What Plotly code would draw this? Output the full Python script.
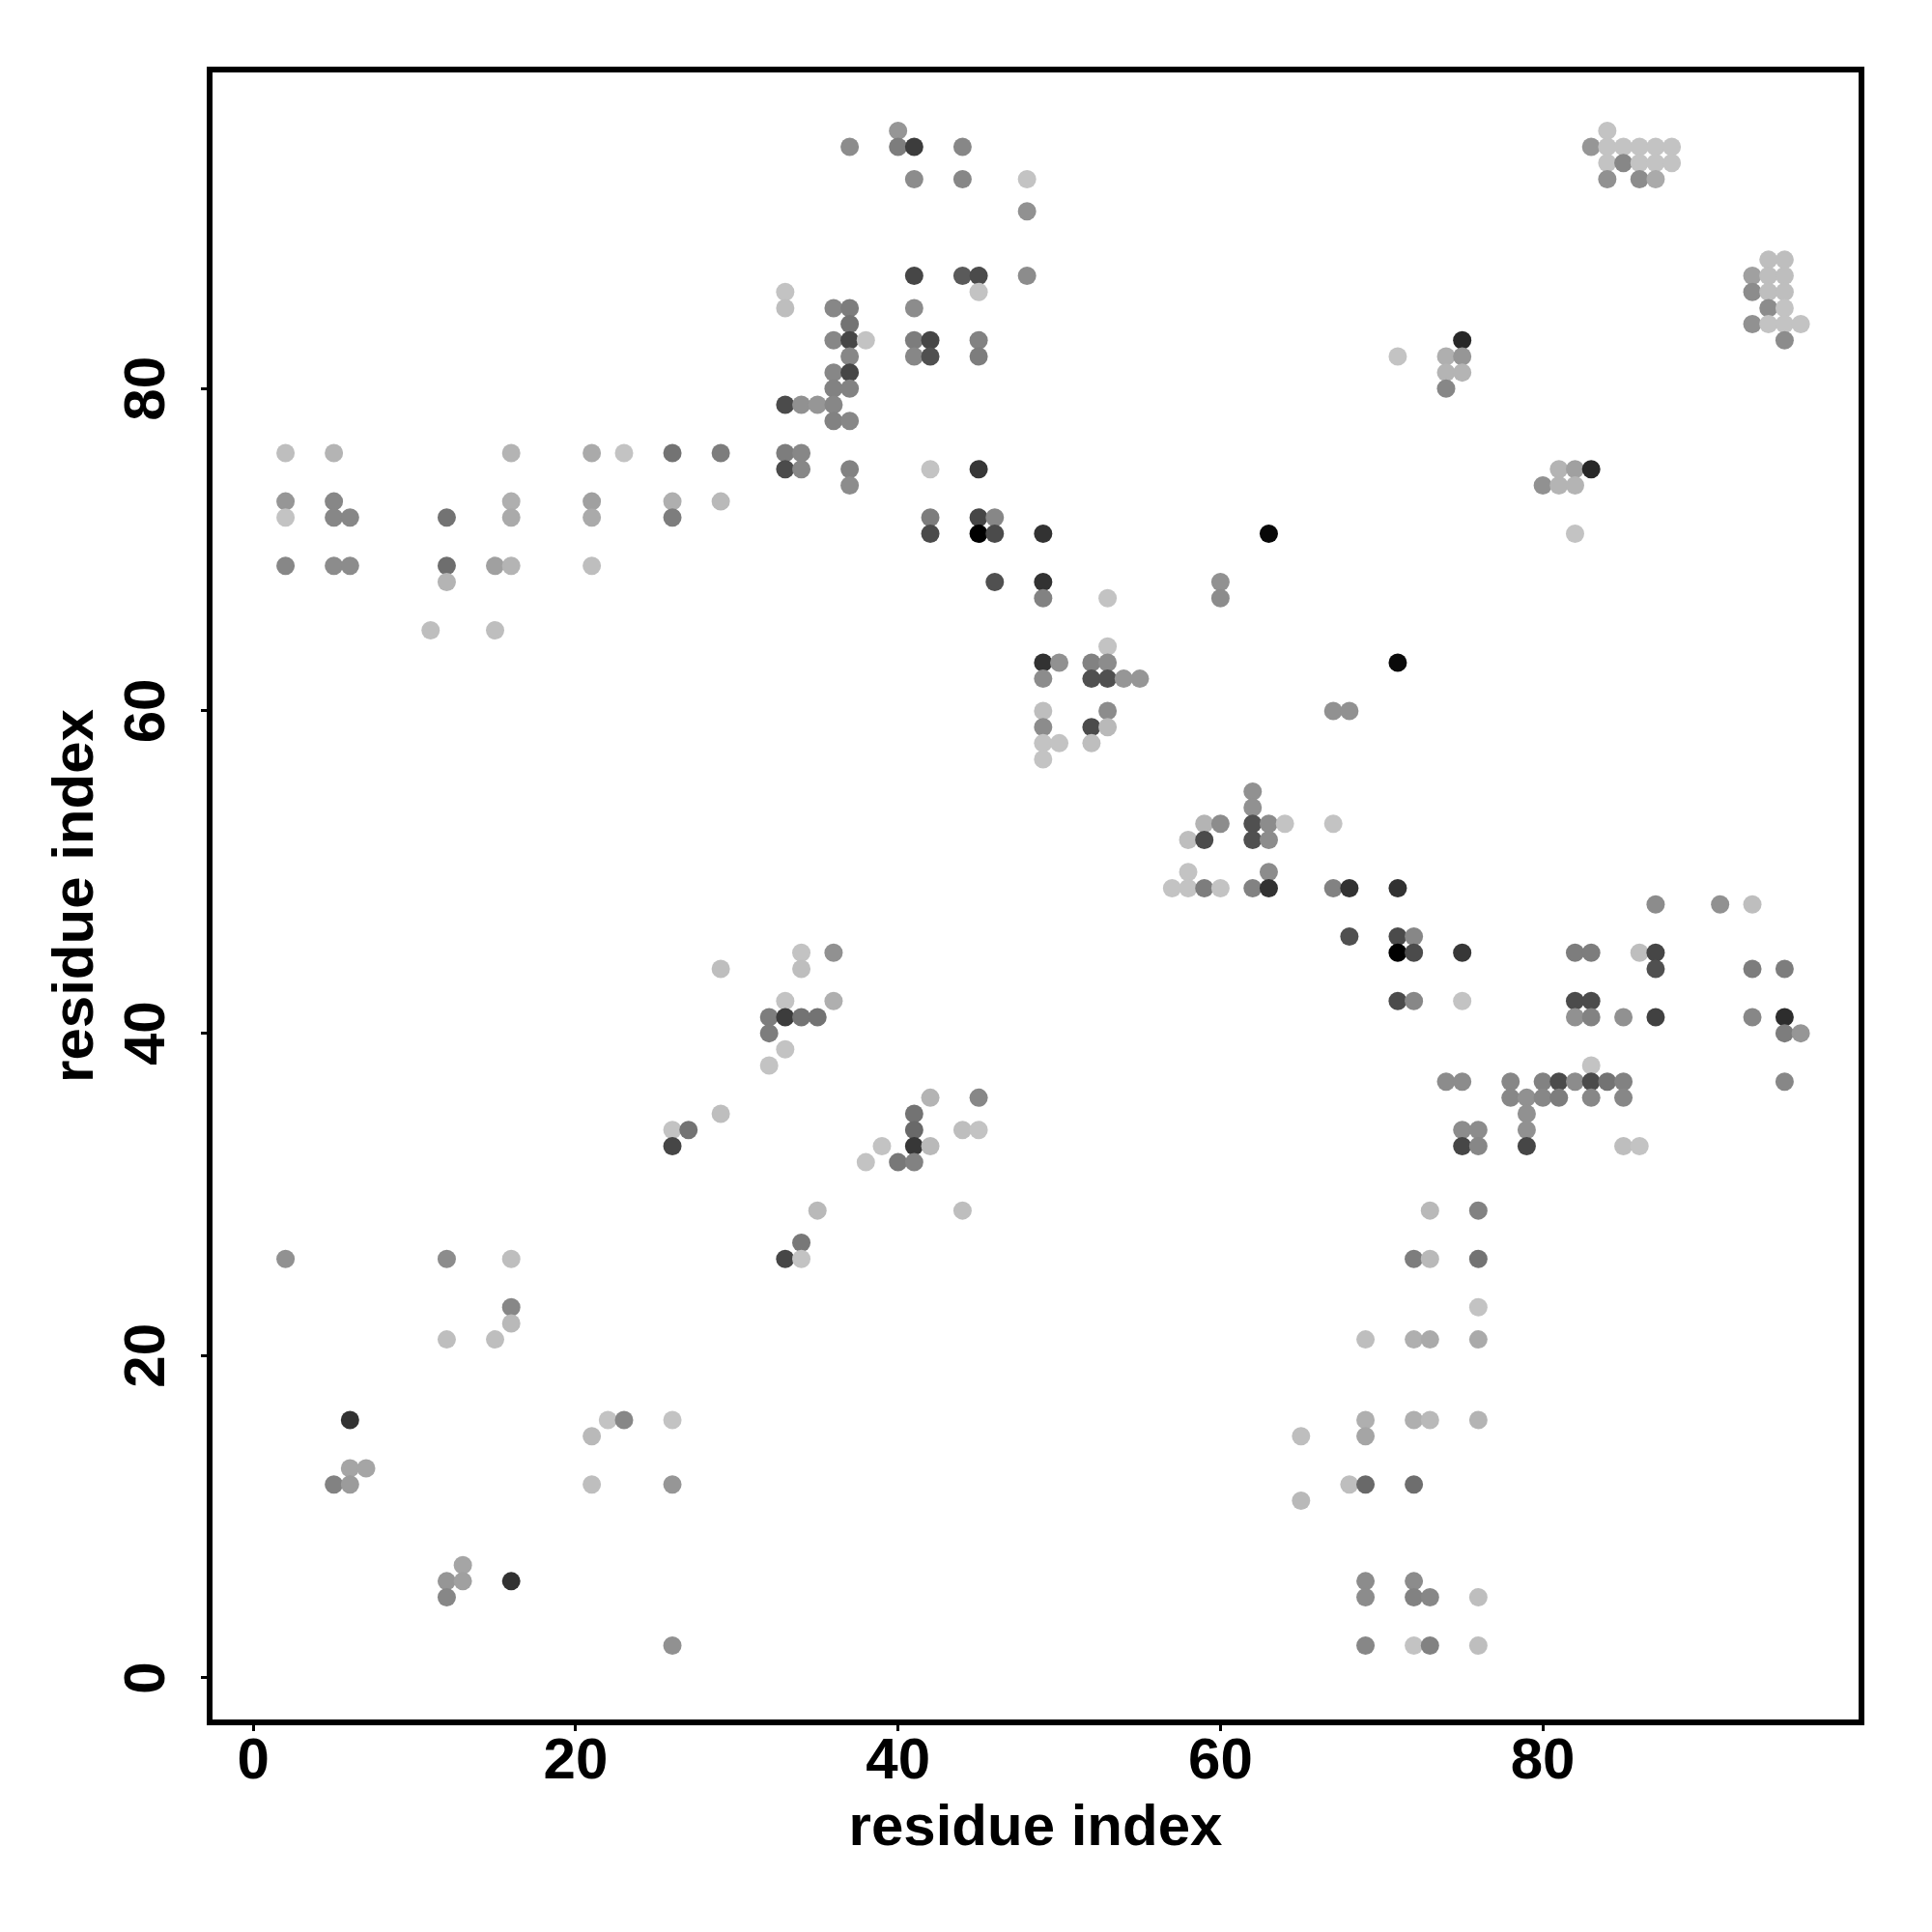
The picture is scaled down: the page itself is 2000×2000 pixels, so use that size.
import plotly.graph_objects as go

# One entry per occupied row of the map: y index, x indices in that row, grey level of each point.
row_y = [96, 95, 94, 93, 91, 88, 87, 86, 85, 84, 83, 82, 81, 80, 79, 78, 76, 75, 74, 73, 72, 71,
         69, 68, 67, 65, 64, 63, 62, 60, 59, 58, 57, 55, 54, 53, 52, 50, 49, 48, 46, 45, 44, 42,
         41, 40, 39, 38, 37, 36, 35, 34, 33, 32, 29, 27, 26, 23, 22, 21, 16, 15, 13, 12, 11, 7,
         6, 5, 2]
row_x = [
    [40, 84],
    [37, 40, 41, 44, 83, 84, 85, 86, 87, 88],
    [84, 85, 86, 87, 88],
    [41, 44, 48, 84, 86, 87],
    [48],
    [94, 95],
    [41, 44, 45, 48, 93, 94, 95],
    [33, 45, 93, 94, 95],
    [33, 36, 37, 41, 94, 95],
    [37, 93, 94, 95, 96],
    [36, 37, 38, 41, 42, 45, 75, 95],
    [37, 41, 42, 45, 71, 74, 75],
    [36, 37, 74, 75],
    [36, 37, 74],
    [33, 34, 35, 36],
    [36, 37],
    [2, 5, 16, 21, 23, 26, 29, 33, 34],
    [33, 34, 37, 42, 45, 81, 82, 83],
    [37, 80, 81, 82],
    [2, 5, 16, 21, 26, 29],
    [2, 5, 6, 12, 16, 21, 26, 42, 45, 46],
    [42, 45, 46, 49, 63, 82],
    [2, 5, 6, 12, 15, 16, 21],
    [12, 46, 49, 60],
    [49, 53, 60],
    [11, 15],
    [53],
    [49, 50, 52, 53, 71],
    [49, 52, 53, 54, 55],
    [49, 53, 67, 68],
    [49, 52, 53],
    [49, 50, 52],
    [49],
    [62],
    [62],
    [59, 60, 62, 63, 64, 67],
    [58, 59, 62, 63],
    [58, 63],
    [57, 58, 59, 60, 62, 63, 67, 68, 71],
    [87, 91, 93],
    [68, 71, 72],
    [34, 36, 71, 72, 75, 82, 83, 86, 87],
    [29, 34, 87, 93, 95],
    [33, 36, 71, 72, 75, 82, 83],
    [32, 33, 34, 35, 82, 83, 85, 87, 93, 95],
    [32, 95, 96],
    [33],
    [32, 83],
    [74, 75, 78, 80, 81, 82, 83, 84, 85, 95],
    [42, 45, 78, 79, 80, 81, 83, 85],
    [29, 41, 79],
    [26, 27, 41, 44, 45, 75, 76, 79],
    [26, 39, 41, 42, 75, 76, 79, 85, 86],
    [38, 40, 41],
    [35, 44, 73, 76],
    [34],
    [2, 12, 16, 33, 34, 72, 73, 76],
    [16, 76],
    [16],
    [12, 15, 69, 72, 73, 76],
    [6, 22, 23, 26, 69, 72, 73, 76],
    [21, 65, 69],
    [6, 7],
    [5, 6, 21, 26, 68, 69, 72],
    [65],
    [13],
    [12, 13, 16, 69, 72],
    [12, 69, 72, 73, 76],
    [26, 69, 72, 73, 76],
]
row_gray = [
    [150, 195],
    [140, 125, 60, 135, 150, 195, 195, 195, 195, 195],
    [195, 135, 195, 195, 195],
    [140, 135, 195, 145, 140, 170],
    [145],
    [190, 190],
    [70, 90, 75, 140, 160, 190, 190],
    [195, 195, 140, 190, 190],
    [190, 135, 125, 140, 140, 195],
    [115, 145, 195, 195, 195],
    [135, 70, 195, 125, 70, 130, 40, 140],
    [135, 135, 80, 125, 195, 175, 150],
    [135, 70, 180, 180],
    [130, 130, 135],
    [75, 145, 150, 135],
    [130, 135],
    [190, 180, 180, 170, 195, 115, 125, 125, 135],
    [75, 135, 130, 195, 55, 180, 160, 40],
    [140, 145, 180, 180],
    [150, 135, 175, 160, 175, 185],
    [195, 135, 135, 115, 170, 170, 125, 125, 70, 135],
    [75, 0, 75, 50, 8, 195],
    [135, 140, 140, 110, 160, 180, 190],
    [180, 80, 50, 145],
    [130, 195, 140],
    [190, 190],
    [195],
    [50, 145, 130, 140, 10],
    [140, 80, 80, 150, 150],
    [190, 140, 145, 145],
    [140, 75, 185],
    [195, 195, 190],
    [195],
    [145],
    [145],
    [180, 140, 80, 140, 195, 195],
    [190, 75, 80, 140],
    [195, 140],
    [195, 195, 125, 195, 130, 50, 130, 50, 50],
    [140, 145, 190],
    [80, 75, 135],
    [195, 145, 0, 75, 55, 125, 125, 190, 70],
    [190, 190, 80, 125, 125],
    [195, 175, 75, 135, 195, 75, 75],
    [125, 60, 115, 115, 145, 130, 145, 65, 135, 45],
    [125, 125, 150],
    [195],
    [195, 195],
    [140, 140, 135, 130, 75, 140, 75, 115, 130, 135],
    [180, 135, 135, 145, 135, 125, 135, 135],
    [190, 115, 145],
    [195, 115, 105, 190, 195, 140, 140, 145],
    [70, 195, 55, 185, 70, 135, 70, 190, 195],
    [195, 120, 130],
    [185, 190, 185, 130],
    [120],
    [145, 140, 190, 70, 195, 125, 185, 115],
    [135, 195],
    [185],
    [190, 190, 190, 175, 170, 170],
    [50, 195, 135, 195, 175, 175, 185, 180],
    [185, 190, 165],
    [165, 165],
    [130, 155, 190, 150, 190, 105, 110],
    [185],
    [165],
    [150, 160, 50, 140, 140],
    [135, 140, 130, 135, 190],
    [145, 135, 195, 130, 190],
]
tick_values = [0, 20, 40, 60, 80]
axis_label = "residue index"

xs, ys, colors = [], [], []
for y, row, grays in zip(row_y, row_x, row_gray):
    for x, g in zip(row, grays):
        xs.append(x)
        ys.append(y)
        colors.append(f"rgb({g},{g},{g})")

fig = go.Figure(go.Scatter(x=xs, y=ys, mode="markers",
                           marker=dict(size=19, color=colors, line=dict(width=0))))

FONT = "Liberation Sans"
axis_style = dict(
    showgrid=False, zeroline=False, showline=True, linecolor="black", linewidth=6, mirror=True,
    ticks="outside", ticklen=6, tickwidth=3, tickcolor="black",
    tickmode="array", tickvals=tick_values, ticktext=[str(v) for v in tick_values],
    tickfont=dict(family=FONT, size=60, color="black", weight=700),
)
fig.update_xaxes(range=[-2.53, 99.59], ticklabelstandoff=-23,
                 title=dict(text=axis_label, standoff=17,
                            font=dict(family=FONT, size=60, color="black", weight=700)),
                 **axis_style)
fig.update_yaxes(range=[-2.58, 99.62], tickangle=-90, ticklabelstandoff=14, ticklabelshift=9,
                 title=dict(text=axis_label, standoff=2,
                            font=dict(family=FONT, size=60, color="black", weight=700)),
                 **axis_style)
fig.update_layout(width=2000, height=2000, autosize=False, showlegend=False,
                  paper_bgcolor="white", plot_bgcolor="white",
                  margin=dict(l=212, r=84, t=67, b=228, pad=0))
fig.write_html("out.html")
